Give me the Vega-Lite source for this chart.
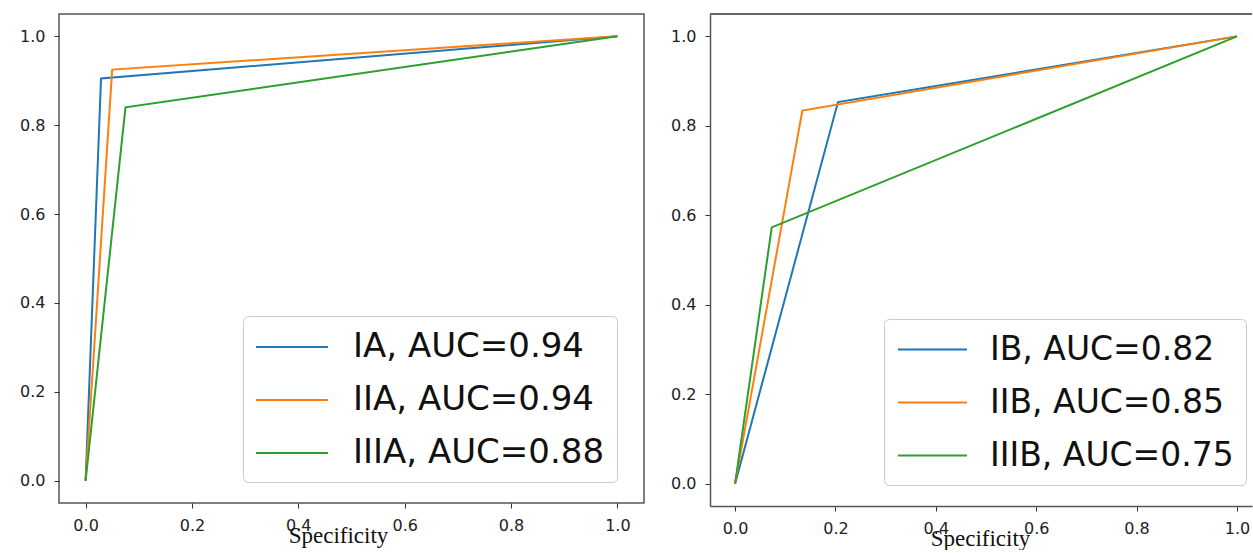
{
  "$schema": "https://vega.github.io/schema/vega-lite/v6.json",
  "padding": {"left": 18, "top": 13, "right": 0, "bottom": 0},
  "background": "white",
  "spacing": 25,
  "config": {
    "view": {"stroke": "#555", "strokeWidth": 1.5},
    "axis": {
      "grid": false,
      "domain": false,
      "labelFont": "DejaVu Sans",
      "labelFontSize": 16,
      "labelColor": "#222",
      "tickColor": "#333",
      "tickSize": 5,
      "tickWidth": 1,
      "labelPadding": 9,
      "titleFont": "Liberation Serif",
      "titleFontSize": 23,
      "titleFontWeight": "normal",
      "titleColor": "#111",
      "titleBaseline": "alphabetic",
      "titleY": 39
    },
    "legend": {
      "orient": "none",
      "title": null,
      "symbolType": "M-2,0H2",
      "symbolStrokeWidth": 2,
      "symbolOffset": 18,
      "labelFont": "DejaVu Sans",
      "labelColor": "#111",
      "labelLimit": 0,
      "rowPadding": 17,
      "padding": 12,
      "strokeColor": "#ccc",
      "strokeWidth": 1,
      "fillColor": "white",
      "cornerRadius": 5
    }
  },
  "datasets": {
    "panelA": [
      {"model": "IA, AUC=0.94", "specificity": 0, "sensitivity": 0},
      {"model": "IA, AUC=0.94", "specificity": 0.029, "sensitivity": 0.905},
      {"model": "IA, AUC=0.94", "specificity": 1, "sensitivity": 1},
      {"model": "IIA, AUC=0.94", "specificity": 0, "sensitivity": 0},
      {"model": "IIA, AUC=0.94", "specificity": 0.05, "sensitivity": 0.925},
      {"model": "IIA, AUC=0.94", "specificity": 1, "sensitivity": 1},
      {"model": "IIIA, AUC=0.88", "specificity": 0, "sensitivity": 0},
      {"model": "IIIA, AUC=0.88", "specificity": 0.075, "sensitivity": 0.84},
      {"model": "IIIA, AUC=0.88", "specificity": 1, "sensitivity": 1}
    ],
    "panelB": [
      {"model": "IB, AUC=0.82", "specificity": 0, "sensitivity": 0},
      {"model": "IB, AUC=0.82", "specificity": 0.205, "sensitivity": 0.853},
      {"model": "IB, AUC=0.82", "specificity": 1, "sensitivity": 1},
      {"model": "IIB, AUC=0.85", "specificity": 0, "sensitivity": 0},
      {"model": "IIB, AUC=0.85", "specificity": 0.134, "sensitivity": 0.834},
      {"model": "IIB, AUC=0.85", "specificity": 1, "sensitivity": 1},
      {"model": "IIIB, AUC=0.75", "specificity": 0, "sensitivity": 0},
      {"model": "IIIB, AUC=0.75", "specificity": 0.073, "sensitivity": 0.573},
      {"model": "IIIB, AUC=0.75", "specificity": 1, "sensitivity": 1}
    ]
  },
  "resolve": {"scale": {"color": "independent"}, "legend": {"color": "independent"}},
  "hconcat": [
    {
      "width": 585,
      "height": 489,
      "data": {"name": "panelA"},
      "mark": {"type": "line", "strokeWidth": 2},
      "encoding": {
        "x": {
          "field": "specificity", "type": "quantitative",
          "scale": {"domain": [-0.05, 1.05], "nice": false, "zero": false},
          "axis": {"values": [0, 0.2, 0.4, 0.6, 0.8, 1.0], "format": ".1f", "title": "Specificity", "titleX": 279}
        },
        "y": {
          "field": "sensitivity", "type": "quantitative",
          "scale": {"domain": [-0.05, 1.05], "nice": false, "zero": false},
          "axis": {"values": [0, 0.2, 0.4, 0.6, 0.8, 1.0], "format": ".1f", "title": null}
        },
        "color": {
          "field": "model", "type": "nominal",
          "scale": {"domain": ["IA, AUC=0.94", "IIA, AUC=0.94", "IIIA, AUC=0.88"], "range": ["#1f77b4", "#ff7f0e", "#2ca02c"]},
          "legend": {"legendX": 184, "legendY": 302, "symbolSize": 1296, "labelFontSize": 34, "labelOffset": 42}
        }
      }
    },
    {
      "width": 542,
      "height": 492,
      "view": {"stroke": null},
      "data": {"name": "panelB"},
      "layer": [
        {
          "mark": {"type": "line", "strokeWidth": 2},
          "encoding": {
            "x": {
              "field": "specificity", "type": "quantitative",
              "scale": {"domain": [-0.05, 1.03], "nice": false, "zero": false},
              "axis": {"values": [0, 0.2, 0.4, 0.6, 0.8, 1.0], "format": ".1f", "title": "Specificity", "titleX": 270, "domain": true, "domainColor": "#555", "domainWidth": 1.5}
            },
            "y": {
              "field": "sensitivity", "type": "quantitative",
              "scale": {"domain": [-0.05, 1.05], "nice": false, "zero": false},
              "axis": {"values": [0, 0.2, 0.4, 0.6, 0.8, 1.0], "format": ".1f", "title": null, "domain": true, "domainColor": "#555", "domainWidth": 1.5}
            },
            "color": {
              "field": "model", "type": "nominal",
              "scale": {"domain": ["IB, AUC=0.82", "IIB, AUC=0.85", "IIIB, AUC=0.75"], "range": ["#1f77b4", "#ff7f0e", "#2ca02c"]},
              "legend": {"legendX": 174, "legendY": 305, "symbolSize": 1190, "labelFontSize": 33, "labelOffset": 39}
            }
          }
        },
        {
          "mark": {"type": "rule", "color": "#666", "strokeWidth": 1.2},
          "encoding": {"y": {"datum": 1.05}}
        }
      ]
    }
  ]
}
